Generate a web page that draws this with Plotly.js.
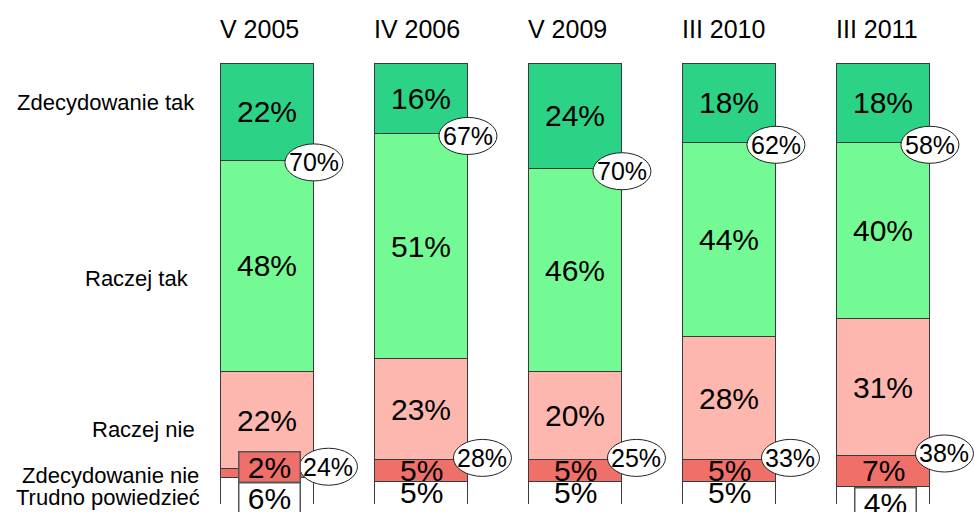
<!DOCTYPE html>
<html>
<head>
<meta charset="utf-8">
<script src="https://cdn.plot.ly/plotly-3.0.1.min.js"></script>
<style>html,body{margin:0;padding:0;background:#fff;}#chart{width:974px;height:512px;}</style>
</head>
<body>
<div id="chart"></div>
<script>
// ---- data ----
const categories = ['V 2005', 'IV 2006', 'V 2009', 'III 2010', 'III 2011'];
const zdecydowanieTak = [22, 16, 24, 18, 18];
const raczejTak = [48, 51, 46, 44, 40];
const raczejNie = [22, 23, 20, 28, 31];
const zdecydowanieNie = [2, 5, 5, 5, 7];
const trudnoPowiedziec = [6, 5, 5, 5, 4];
const sumaTak = [70, 67, 70, 62, 58];
const sumaNie = [24, 28, 25, 33, 38];
const seriesNames = ['Trudno powiedzieć', 'Zdecydowanie nie', 'Raczej nie', 'Raczej tak', 'Zdecydowanie tak'];

// ---- styles ----
const seriesValues = [trudnoPowiedziec, zdecydowanieNie, raczejNie, raczejTak, zdecydowanieTak];
const seriesColors = ['#ffffff', '#ef6f69', '#fdb7af', '#74fa95', '#2cd387'];
const FONT = 'Liberation Sans, Arial, sans-serif';
const xIdx = categories.map((c, i) => i);

const traces = seriesValues.map((vals, s) => ({
  type: 'bar',
  name: seriesNames[s],
  x: xIdx,
  y: vals,
  marker: { color: seriesColors[s], line: { color: '#3a3a3a', width: 1 } },
  hoverinfo: 'skip',
  showlegend: false
}));

const annotations = [];
const shapes = [];

// category labels at top
categories.forEach((c, i) => {
  annotations.push({
    x: i, xref: 'x', xanchor: 'left', xshift: -49,
    y: 1, yref: 'paper', yanchor: 'middle', yshift: 34,
    text: c, showarrow: false,
    font: { family: FONT, size: 25, color: '#000' }
  });
});

// left row labels (series names)
const rowLabelY = [1.4, 6.4, 16.9, 51.2, 91.0];
const rowLabelShift = [2, 1, -3, -9, -3];
seriesNames.forEach((n, s) => {
  annotations.push({
    x: 0, xref: 'paper', xanchor: 'right', xshift: rowLabelShift[s],
    y: rowLabelY[s], yref: 'y', yanchor: 'middle',
    text: n, showarrow: false,
    font: { family: FONT, size: 22, color: '#000' }
  });
});

// value labels inside the bars
const boxed = { '0-0': '#ffffff', '0-1': '#ef6f69', '4-0': '#ffffff' };
const boxedShift = { '0-0': -7, '0-1': 6, '4-0': -8 };
xIdx.forEach(i => {
  let cum = 0;
  seriesValues.forEach((vals, s) => {
    const v = vals[i];
    const mid = cum + v / 2;
    cum += v;
    const key = i + '-' + s;
    const a = {
      x: i, xref: 'x', y: mid, yref: 'y',
      text: v + '%', showarrow: false,
      font: { family: FONT, size: 30, color: '#000' }
    };
    if (boxed[key]) {
      a.bgcolor = boxed[key];
      a.bordercolor = '#555555';
      a.borderwidth = 1.5;
      a.borderpad = 0;
      a.width = 60;
      a.height = 29;
      a.xshift = 2;
      a.yshift = boxedShift[key];
    }
    annotations.push(a);
  });
});

// total bubbles
function bubble(i, yVal, dx, dy, label) {
  shapes.push({
    type: 'circle', xref: 'x', yref: 'y', layer: 'above',
    xsizemode: 'pixel', ysizemode: 'pixel',
    xanchor: i, yanchor: yVal,
    x0: dx - 29, x1: dx + 29, y0: dy - 18.5, y1: dy + 18.5,
    fillcolor: '#ffffff', line: { color: '#222222', width: 1 }
  });
  annotations.push({
    x: i, xref: 'x', y: yVal, yref: 'y', xshift: dx, yshift: dy,
    text: label, showarrow: false,
    font: { family: FONT, size: 25, color: '#000' }
  });
}
xIdx.forEach(i => {
  const topBoundary = trudnoPowiedziec[i] + zdecydowanieNie[i] + raczejNie[i] + raczejTak[i];
  const bottomBoundary = trudnoPowiedziec[i] + zdecydowanieNie[i];
  bubble(i, topBoundary, 46.5, -2.4, sumaTak[i] + '%');
  bubble(i, bottomBoundary, 61, 2, sumaNie[i] + '%');
});

const layout = {
  width: 974, height: 512,
  margin: { l: 200, r: 0, t: 63, b: 8, pad: 0 },
  paper_bgcolor: '#ffffff', plot_bgcolor: '#ffffff',
  barmode: 'stack', bargap: 0.396,
  xaxis: { range: [-0.438, 4.588], showgrid: false, zeroline: false, showticklabels: false, ticks: '', showline: false, fixedrange: true },
  yaxis: { range: [0, 100], showgrid: false, zeroline: false, showticklabels: false, ticks: '', showline: false, fixedrange: true },
  annotations: annotations,
  shapes: shapes,
  showlegend: false
};

Plotly.newPlot('chart', traces, layout, { displayModeBar: false, staticPlot: true });
</script>
</body>
</html>
